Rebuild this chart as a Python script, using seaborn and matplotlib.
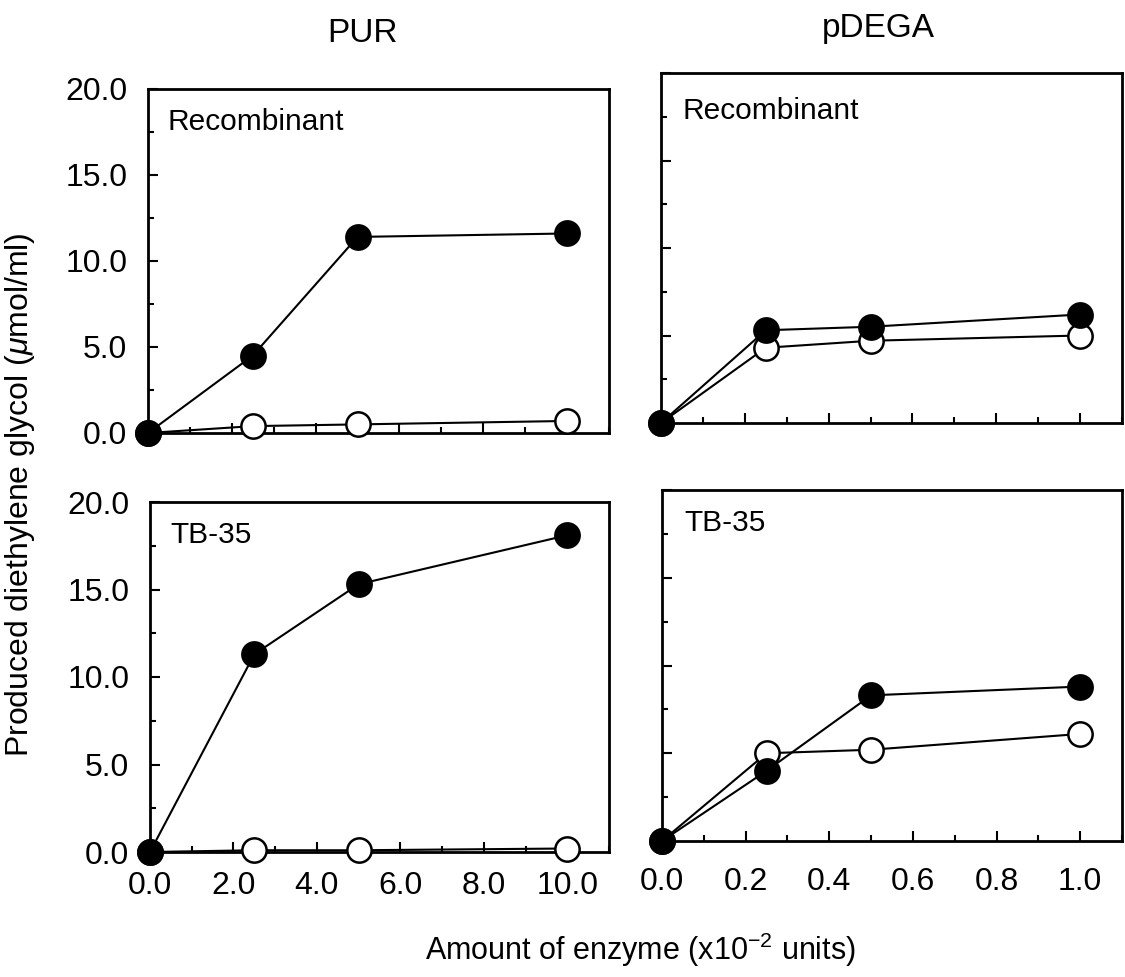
import matplotlib
matplotlib.use("Agg")
import matplotlib.pyplot as plt
import seaborn as sns
from matplotlib.ticker import MultipleLocator, FormatStrFormatter

# ---------------- data ----------------
pur_x = [0, 2.5, 5, 10]
pdega_x = [0, 0.25, 0.5, 1.0]

pur_recomb_filled = [0, 4.5, 11.4, 11.6]
pur_recomb_open = [0, 0.4, 0.5, 0.7]
pdega_recomb_filled = [0, 5.3, 5.5, 6.2]
pdega_recomb_open = [0, 4.3, 4.7, 5.0]

pur_tb_filled = [0, 11.3, 15.3, 18.1]
pur_tb_open = [0, 0.1, 0.1, 0.2]
pdega_tb_filled = [0, 4.0, 8.3, 8.8]
pdega_tb_open = [0, 5.0, 5.2, 6.1]

col_titles = ["PUR", "pDEGA"]
row_labels = ["Recombinant", "TB-35"]
y_label = "Produced diethylene glycol ($\\mathit{\\mu}$mol/ml)"
x_label = "Amount of enzyme (x10$^{\\mathregular{-2}}$ units)"

# ---------------- style ----------------
sns.set_style("ticks")
plt.rcParams["font.family"] = ["Liberation Sans", "DejaVu Sans"]
plt.rcParams["text.color"] = "black"
plt.rcParams["axes.labelcolor"] = "black"
plt.rcParams["mathtext.fontset"] = "custom"
plt.rcParams["mathtext.rm"] = "Liberation Sans"
plt.rcParams["mathtext.it"] = "Liberation Sans:italic"

W, H = 1125, 977
fig = plt.figure(figsize=(W / 100, H / 100), dpi=100)
fig.patch.set_facecolor("white")


def px_axes(x0, x1, y0, y1):
    return fig.add_axes([x0 / W, 1 - y1 / H, (x1 - x0) / W, (y1 - y0) / H])


ax_tl = px_axes(148, 609, 89, 433)
ax_tr = px_axes(661, 1122, 73, 423)
ax_bl = px_axes(150, 609, 502, 852)
ax_br = px_axes(662, 1122, 490, 841)

panels = [
    (ax_tl, pur_x, pur_recomb_open, pur_recomb_filled, "pur", True, False, row_labels[0], (0.043, 0.904), 14),
    (ax_tr, pdega_x, pdega_recomb_open, pdega_recomb_filled, "pdega", False, False, row_labels[0], (0.046, 0.891), 14),
    (ax_bl, pur_x, pur_tb_open, pur_tb_filled, "pur", True, True, row_labels[1], (0.044, 0.906), 14),
    (ax_br, pdega_x, pdega_tb_open, pdega_tb_filled, "pdega", False, True, row_labels[1], (0.048, 0.906), 19),
]

line_kw = dict(color="black", linewidth=1.5, marker="o", markersize=17.5,
               markeredgecolor="black", markeredgewidth=1.8, clip_on=False)

for ax, xs, y_open, y_filled, kind, ylab, xlab, lab, lpos, xpad in panels:
    sns.lineplot(x=xs, y=y_open, ax=ax, markerfacecolor="white", zorder=3, **line_kw)
    sns.lineplot(x=xs, y=y_filled, ax=ax, markerfacecolor="black", zorder=4, **line_kw)

    ax.set_ylim(0, 20)
    ax.yaxis.set_major_locator(MultipleLocator(5))
    ax.yaxis.set_minor_locator(MultipleLocator(2.5))
    if kind == "pur":
        ax.set_xlim(0, 11)
        ax.xaxis.set_major_locator(MultipleLocator(2))
        ax.xaxis.set_minor_locator(MultipleLocator(1))
    else:
        ax.set_xlim(0, 1.1)
        ax.xaxis.set_major_locator(MultipleLocator(0.2))
        ax.xaxis.set_minor_locator(MultipleLocator(0.1))
    ax.xaxis.set_major_formatter(FormatStrFormatter("%.1f"))
    ax.yaxis.set_major_formatter(FormatStrFormatter("%.1f"))

    ax.tick_params(which="both", direction="in", top=False, right=False,
                   width=1.5, colors="black", labelsize=23)
    ax.tick_params(which="major", length=7.5)
    ax.tick_params(which="minor", length=4)
    ax.tick_params(axis="y", pad=15)
    ax.tick_params(axis="x", pad=xpad)
    ax.tick_params(axis="y", labelleft=ylab)
    ax.tick_params(axis="x", labelbottom=xlab)

    for sp in ax.spines.values():
        sp.set_linewidth(2)
        sp.set_color("black")
        sp.set_visible(True)
    ax.set_xlabel("")
    ax.set_ylabel("")
    ax.set_facecolor("white")
    ax.grid(False)
    ax.text(lpos[0], lpos[1], lab, transform=ax.transAxes, fontsize=21.5,
            ha="left", va="center", color="black")

# column titles
fig.text(362 / W, 1 - 34 / H, col_titles[0], fontsize=24, ha="center", va="center", color="black")
fig.text(878 / W, 1 - 29 / H, col_titles[1], fontsize=24, ha="center", va="center", color="black")

# shared axis labels
fig.text(20 / W, 1 - 495 / H, y_label, fontsize=23, rotation=90, ha="center", va="center", color="black")
fig.text(640 / W, 1 - 950 / H, x_label, fontsize=22, ha="center", va="center", color="black")

fig.savefig("out.png", dpi=100, facecolor="white")
